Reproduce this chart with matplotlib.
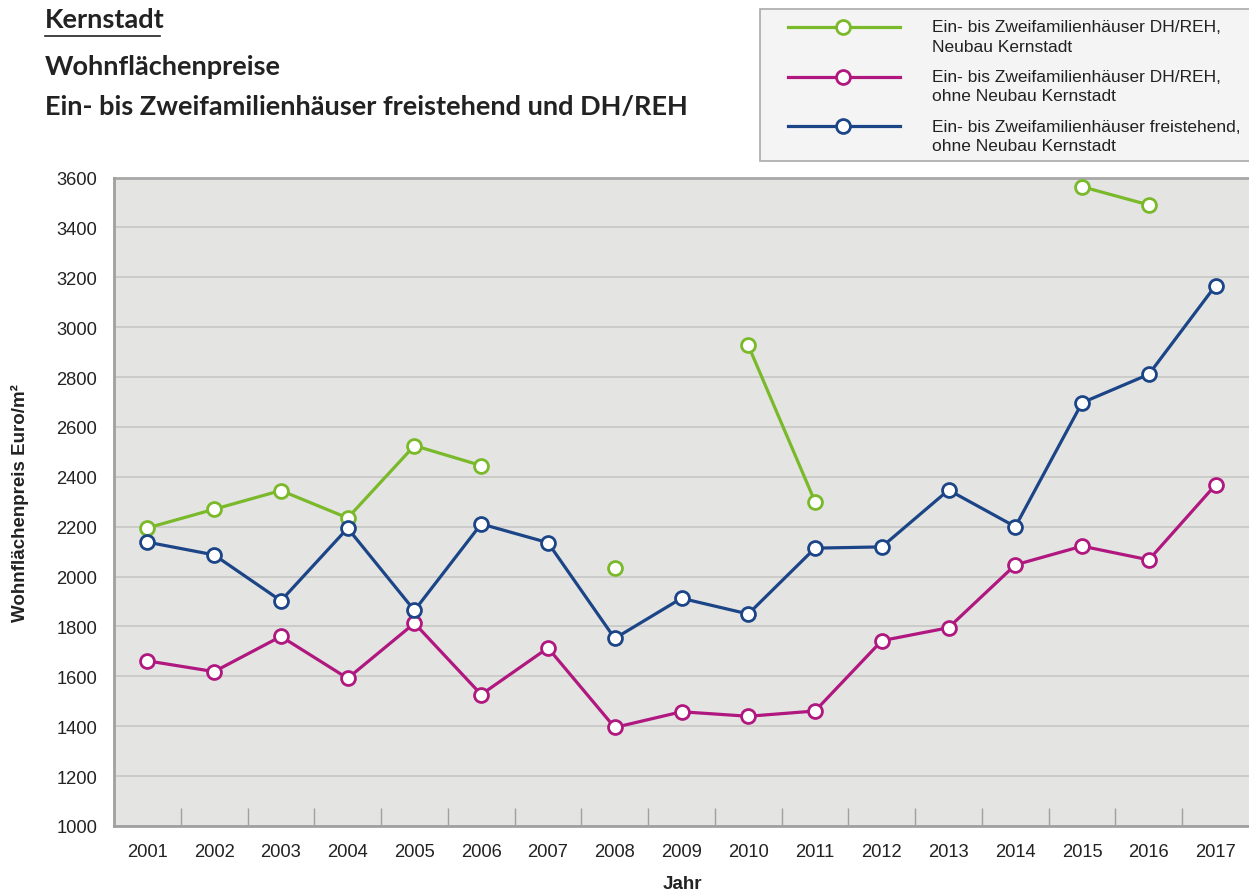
import matplotlib
matplotlib.use("Agg")
import matplotlib.pyplot as plt
from matplotlib.lines import Line2D
from matplotlib.patches import Rectangle
import numpy as np

nan = np.nan

years = list(range(2001, 2018))
neubau_dh = [2195, 2270, 2345, 2235, 2525, 2445, nan, 2036, nan, 2927, 2300,
             nan, nan, nan, 3563, 3490, nan]
dh_ohne = [1662, 1619, 1760, 1592, 1813, 1527, 1714, 1395, 1458, 1440, 1461,
           1743, 1795, 2047, 2122, 2067, 2368]
frei_ohne = [2138, 2087, 1903, 2194, 1864, 2211, 2136, 1752, 1913, 1850, 2114,
             2119, 2347, 2200, 2697, 2811, 3167]

labels = ["Ein- bis Zweifamilienhäuser DH/REH,\nNeubau Kernstadt",
          "Ein- bis Zweifamilienhäuser DH/REH,\nohne Neubau Kernstadt",
          "Ein- bis Zweifamilienhäuser freistehend,\nohne Neubau Kernstadt"]
colors = ["#7ab929", "#b0177f", "#1b4587"]
yticks = list(range(1000, 3601, 200))

plt.rcParams["font.family"] = ["Liberation Sans", "DejaVu Sans"]

W, H = 1249, 895
fig = plt.figure(figsize=(W / 100, H / 100), dpi=100)
ax = fig.add_axes([114 / W, 1 - 827 / H, 1 - 114 / W, (827 - 178.5) / H])
ax.set_facecolor("#e4e4e3")

style = dict(lw=2.3, marker="o", ms=10, mfc="white", mew=2.0)

x = np.arange(len(years))
for vals, col in zip([neubau_dh, dh_ohne, frei_ohne], colors):
    ax.plot(x, vals, color=col, mec=col, zorder=3, **style)

ax.set_xlim(-0.5, len(years) - 0.5)
ax.set_ylim(1000, 3600)
ax.set_yticks(yticks)
ax.set_yticklabels([str(v) for v in yticks])
ax.set_xticks(x)
ax.set_xticklabels([str(y) for y in years])
ax.set_xticks(x[:-1] + 0.5, minor=True)
ax.tick_params(axis="x", which="major", length=0, pad=12, labelsize=13.2, colors="#222222")
ax.tick_params(axis="x", which="minor", direction="in", length=13, width=1, color="#a0a0a0")
ax.tick_params(axis="y", length=0, pad=12, labelsize=13.2, colors="#222222")
ax.grid(axis="y", color="#c6c6c6", lw=1.2, zorder=0)
ax.set_axisbelow(True)
for s in ["top", "right"]:
    ax.spines[s].set_visible(False)
for s in ["left", "bottom"]:
    ax.spines[s].set_color("#a0a0a0")
    ax.spines[s].set_linewidth(2)
ax.axhline(3600, color="#a8a8a8", lw=2, zorder=1, clip_on=False)

fig.text(20 / W, 1 - 503 / H, "Wohnflächenpreis Euro/m²", rotation=90,
         ha="center", va="center", fontsize=13.5, fontweight="bold", color="#222222")
fig.text(682 / W, 1 - 885 / H, "Jahr", ha="center", va="center",
         fontsize=13.5, fontweight="bold", color="#222222")

# titles
tfont = ["Lato", "DejaVu Sans"]
fig.text(45 / W, 1 - 20 / H, "Kernstadt", ha="left", va="center",
         fontsize=19.5, fontweight="bold", family=tfont, color="#222222")
fig.add_artist(Line2D([45 / W, 160 / W], [1 - 37 / H, 1 - 37 / H],
                      color="#222222", lw=1.2))
fig.text(45 / W, 1 - 67 / H, "Wohnflächenpreise", ha="left", va="center",
         fontsize=19.5, fontweight="bold", family=tfont, color="#222222")
fig.text(45 / W, 1 - 107 / H, "Ein- bis Zweifamilienhäuser freistehend und DH/REH",
         ha="left", va="center", fontsize=19.5, fontweight="bold", family=tfont,
         color="#222222")

# legend: box, handles aligned with the first text line
fig.add_artist(Rectangle((760 / W, 1 - 162 / H), 500 / W, 152 / H,
                         transform=fig.transFigure, facecolor="#f4f4f4",
                         edgecolor="#aaaaaa", lw=1.2, zorder=0))
for i, (lab, col) in enumerate(zip(labels, colors)):
    ypx = 28 + i * 49.5
    yf = 1 - ypx / H
    fig.add_artist(Line2D([788 / W, 900 / W], [yf, yf], color=col, lw=2.3))
    fig.add_artist(Line2D([843 / W], [yf], color=col, marker="o", ms=10,
                          mfc="white", mec=col, mew=2.0))
    for j, line in enumerate(lab.split("\n")):
        fig.text(932 / W, 1 - (ypx + j * 19.5) / H, line, ha="left", va="center",
                 fontsize=12.5, color="#222222")

fig.savefig("out.png", dpi=100)
